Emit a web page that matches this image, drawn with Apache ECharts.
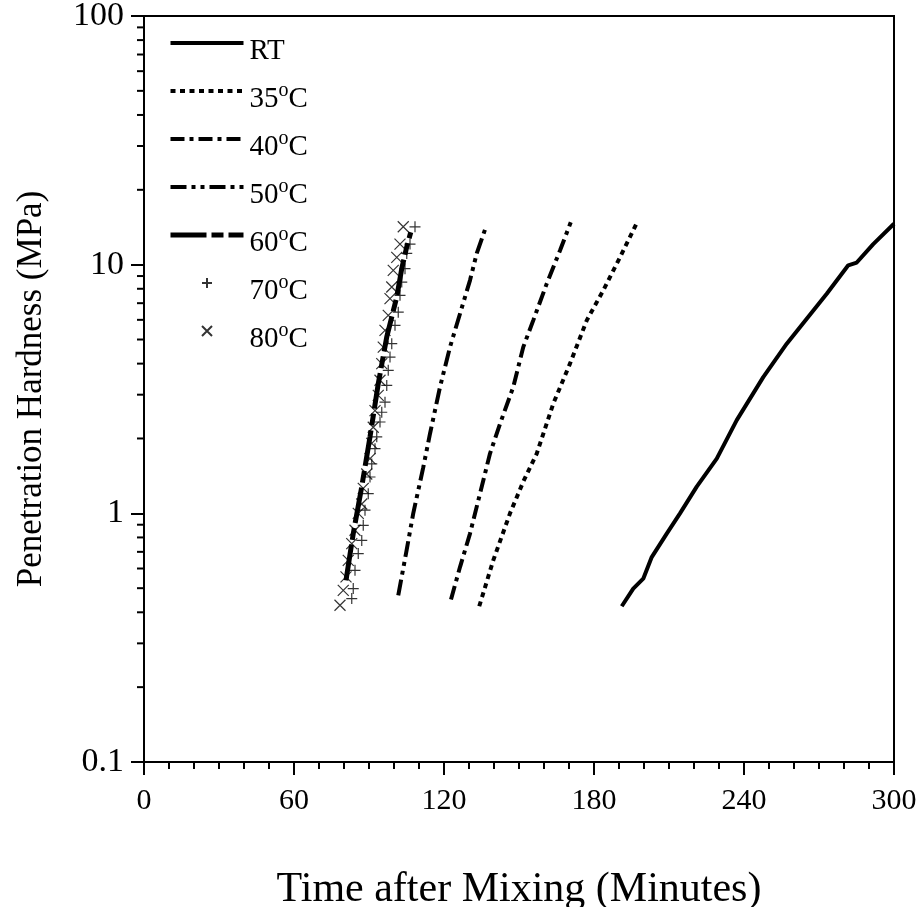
<!DOCTYPE html>
<html>
<head>
<meta charset="utf-8">
<script src="https://cdn.jsdelivr.net/npm/echarts@6/dist/echarts.min.js"></script>
<style>
  html, body { margin: 0; padding: 0; background: #fff; }
  #chart { width: 916px; height: 907px; }
</style>
</head>
<body>
<div id="chart"></div>
<script>
// Penetration hardness vs. time after mixing at several curing temperatures
const rtTime   = [191.1, 195.7, 199.7, 203.1, 209.1, 214.4, 221.1, 229.1, 237.1, 247.7, 257.1, 273.1, 281.7, 285.1, 291.7, 300];
const rtHard   = [0.423, 0.498, 0.546, 0.667, 0.829, 1.00, 1.28, 1.66, 2.37, 3.53, 4.81, 7.64, 9.94, 10.2, 12.1, 14.6];

const t35Time  = [134.1, 139.7, 146.4, 151.7, 157.1, 163.7, 170.4, 177.1, 183.7, 190.4, 196.8];
const t35Hard  = [0.423, 0.647, 1.00, 1.34, 1.74, 2.76, 4.00, 5.97, 7.88, 10.7, 14.5];

const t40Time  = [122.8, 126.4, 130.4, 134.4, 138.4, 142.4, 147.7, 151.7, 155.7, 161.1, 166.4, 170.7];
const t40Hard  = [0.45, 0.608, 0.829, 1.20, 1.74, 2.29, 3.22, 4.66, 5.97, 8.39, 11.4, 14.8];

const t50Time  = [101.7, 104.8, 107.7, 111.7, 114.4, 118.4, 122.4, 126.4, 130.4, 133.1, 136.8];
const t50Hard  = [0.468, 0.689, 1.00, 1.53, 2.09, 3.22, 4.66, 6.35, 8.65, 11.1, 14.2];

const t60Time  = [80.8, 83.7, 87.1, 90.4, 93.7, 97.1, 101.1, 103.1, 105.1, 106.7];
const t60Hard  = [0.538, 0.829, 1.28, 2.03, 3.32, 5.12, 7.41, 9.64, 11.8, 13.5];

const t70Time  = [83.1, 83.7, 84.4, 85.7, 87.1, 87.7, 88.4, 89.7, 90.4, 91.1, 92.4, 93.1, 94.4, 95.1,
                  96.4, 97.1, 97.7, 98.4, 99.1, 100.4, 101.7, 102.4, 103.1, 104.4, 105.1, 106.4, 108.4];
const t70Hard  = [0.454, 0.498, 0.590, 0.689, 0.778, 0.895, 1.03, 1.20, 1.40, 1.58, 1.82, 2.03, 2.33, 2.55,
                  2.80, 3.27, 3.76, 4.25, 4.81, 5.70, 6.44, 7.53, 8.51, 9.64, 11.1, 12.1, 14.2];

const t80Time  = [78.4, 79.7, 80.8, 81.7, 83.1, 84.4, 85.7, 87.1, 87.7, 89.1, 90.4, 91.1, 91.7, 92.4,
                  93.7, 94.4, 95.1, 95.7, 96.4, 97.7, 98.4, 99.1, 99.7, 101.1, 102.4, 103.7];
const t80Hard  = [0.427, 0.490, 0.555, 0.647, 0.755, 0.855, 1.00, 1.09, 1.26, 1.44, 1.66, 1.91, 2.22, 2.59,
                  2.98, 3.43, 4.00, 4.66, 5.44, 6.25, 7.30, 8.13, 9.48, 10.7, 12.1, 14.2];

const seriesNames = ['RT', '35°C', '40°C', '50°C', '60°C', '70°C', '80°C'];
const xTicks = [0, 60, 120, 180, 240, 300];
const yDecades = [0.1, 1, 10, 100];

const zip = (xs, ys) => xs.map((x, i) => [x, ys[i]]);

// intermediate log ticks (2..9 in every decade)
const yMinorTicks = [];
yDecades.slice(0, -1).forEach(d => {
  for (let k = 2; k <= 9; k++) yMinorTicks.push([0, +(d * k).toPrecision(3)]);
});

const FONT = 'Liberation Serif';
const plusPath  = 'path://M5,0L5,10M0,5L10,5';
const crossPath = 'path://M0,0L10,10M10,0L0,10';

// dash patterns and widths of the line series
const lineDash  = { 'RT': 'solid', '35°C': [5, 4.5], '40°C': [14, 5, 4, 5], '50°C': [16, 5, 4, 5, 4, 5], '60°C': [36, 5, 12, 5] };
const lineWidth = { 'RT': 4, '35°C': 4, '40°C': 4, '50°C': 4, '60°C': 5 };

function lineSeries(name, data) {
  return {
    name, type: 'line', data, symbol: 'none', smooth: false,
    itemStyle: { color: '#000' },
    lineStyle: { color: '#000', width: lineWidth[name], type: lineDash[name], cap: 'butt' },
    z: 3
  };
}
function markerSeries(name, data, path) {
  return {
    name, type: 'scatter', data, symbol: path, symbolSize: 11,
    itemStyle: { color: 'rgba(0,0,0,0)', borderColor: '#000', borderWidth: 1.2 },
    z: 4
  };
}

const chart = echarts.init(document.getElementById('chart'), null, { renderer: 'canvas' });

chart.setOption({
  animation: false,
  backgroundColor: '#fff',
  grid: {
    left: 144, right: 22, top: 16, bottom: 145,
    outerBoundsMode: 'none', containLabel: false,
    show: true, borderColor: '#000', borderWidth: 2, backgroundColor: 'transparent'
  },
  legend: {
    orient: 'vertical',
    left: 168, top: 17, padding: 0,
    itemWidth: 73, itemHeight: 10, itemGap: -4,
    data: seriesNames.map(n => lineDash[n]
      ? {
          name: n,
          itemStyle: { color: 'rgba(0,0,0,0)', borderWidth: 0, opacity: 0 },
          lineStyle: { color: '#000', width: lineWidth[n], type: lineDash[n], cap: 'butt' }
        }
      : { name: n }),
    textStyle: {
      fontFamily: FONT, fontSize: 29, color: '#000',
      lineHeight: 36, padding: [16, 0, 0, 1],
      rich: {
        sup: { fontFamily: FONT, fontSize: 20, lineHeight: 20, verticalAlign: 'top', color: '#000' },
        n:   { fontFamily: FONT, fontSize: 29, lineHeight: 36, color: '#000' }
      }
    },
    formatter: name => name.indexOf('°') >= 0
      ? '{n|' + name.replace('°C', '') + '}{sup|o}{n|C}'
      : '{n|' + name + '}'
  },
  xAxis: {
    type: 'value', min: xTicks[0], max: xTicks[xTicks.length - 1], interval: 60,
    name: 'Time after Mixing (Minutes)',
    nameLocation: 'middle', nameGap: 107,
    nameTextStyle: { fontFamily: FONT, fontSize: 42, color: '#000' },
    axisLine: { show: true, lineStyle: { color: '#000', width: 2 } },
    axisTick: { show: true, inside: false, length: 13, lineStyle: { color: '#000', width: 2 } },
    minorTick: { show: true, splitNumber: 6, length: 7, lineStyle: { color: '#000', width: 2 } },
    axisLabel: { fontFamily: FONT, fontSize: 30, color: '#000', margin: 24 },
    splitLine: { show: false }
  },
  yAxis: {
    type: 'log', logBase: 10, min: yDecades[0], max: yDecades[yDecades.length - 1],
    name: 'Penetration Hardness (MPa)',
    nameLocation: 'middle', nameGap: 95, nameRotate: 90,
    nameTextStyle: { fontFamily: FONT, fontSize: 35, color: '#000' },
    axisLine: { show: true, lineStyle: { color: '#000', width: 2 } },
    axisTick: { show: true, inside: false, length: 13, lineStyle: { color: '#000', width: 2 } },
    minorTick: { show: false },
    axisLabel: {
      fontFamily: FONT, fontSize: 34, color: '#000', margin: 20,
      formatter: v => String(+(+v).toPrecision(3))
    },
    splitLine: { show: false }
  },
  series: [
    lineSeries('RT',   zip(rtTime, rtHard)),
    lineSeries('35°C', zip(t35Time, t35Hard)),
    lineSeries('40°C', zip(t40Time, t40Hard)),
    lineSeries('50°C', zip(t50Time, t50Hard)),
    lineSeries('60°C', zip(t60Time, t60Hard)),
    markerSeries('70°C', zip(t70Time, t70Hard), plusPath),
    markerSeries('80°C', zip(t80Time, t80Hard), crossPath),
    {
      // minor ticks of the log axis
      name: 'yMinor', type: 'custom', silent: true, clip: false, z: 5,
      data: yMinorTicks,
      renderItem: (params, api) => {
        const p = api.coord([api.value(0), api.value(1)]);
        return {
          type: 'line',
          shape: { x1: p[0] - 7, y1: p[1], x2: p[0], y2: p[1] },
          style: { stroke: '#000', lineWidth: 2 }
        };
      }
    }
  ]
});
</script>
</body>
</html>
